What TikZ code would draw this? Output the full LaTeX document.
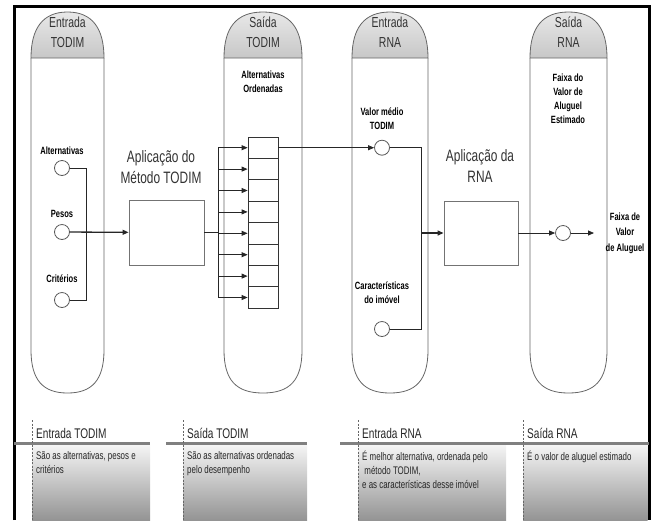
\documentclass[tikz,border=0pt]{standalone}
\usepackage{fontspec}
\setmainfont[FakeStretch=0.72]{Liberation Sans}
\usetikzlibrary{arrows.meta,positioning}

\tikzset{
  raia/.style={draw=black!60, line width=0.8pt},
  cupula/.style={top color=black!9, bottom color=black!22},
  titulo/.style={font=\fontsize{14.5}{20}\selectfont, align=center, black!80},
  rotulo/.style={font=\fontsize{10.5}{14}\bfseries\selectfont, align=center, inner sep=0pt},
  grande/.style={font=\fontsize{16.5}{21}\selectfont, align=center, black!80},
  bola/.style={circle, draw=black!65, line width=0.8pt, minimum size=15pt, inner sep=0pt},
  caixa/.style={draw=black!55, line width=0.9pt, inner sep=0pt},
  fila/.style={draw=black!80, line width=0.8pt, minimum width=30pt, minimum height=21.4pt, inner sep=0pt},
  fio/.style={black!85, line width=0.8pt},
  faixa/.style={top color=black!4, bottom color=black!42, draw=none},
  cab/.style={font=\fontsize{14}{16}\selectfont, anchor=west, inner sep=0pt, black!85},
  corpo/.style={font=\fontsize{11}{14}\selectfont, anchor=north west, align=left, inner sep=0pt, black!85},
}

\begin{document}
\begin{tikzpicture}[x=1pt, y=-1pt, >={Triangle[length=6pt, width=5pt]}]
  \useasboundingbox (0,0) rectangle (652,520);

  % moldura
  \draw[line width=3pt] (14,520) -- (14,6) -- (649,6) -- (649,520);

  % raias
  \foreach \l/\r/\ta/\tb/\nome in {31/104/Entrada/TODIM/r1, 224/302/Saída/TODIM/r2,
                                   352/428/Entrada/RNA/r3, 530/607/Saída/RNA/r4} {
    \pgfmathsetmacro{\m}{(\l+\r)/2}
    \shade[cupula] (\l,58) .. controls (\l,28) and (\l+12,12) .. (\m,12)
                   .. controls (\r-12,12) and (\r,28) .. (\r,58) -- cycle;
    \draw[raia] (\l,58) .. controls (\l,28) and (\l+12,12) .. (\m,12)
                .. controls (\r-12,12) and (\r,28) .. (\r,58) -- cycle;
    \draw[raia] (\l,58) -- (\l,350) .. controls (\l,380) and (\l+12,393) .. (\m,393)
                .. controls (\r-12,393) and (\r,380) .. (\r,350) -- (\r,58);
    \node[titulo] (\nome) at (\m,32) {\ta\\\tb};
  }

  % Entrada TODIM
  \node[bola] (alt) at (62,168) {};
  \node[bola] (pes) at (62,232) {};
  \node[bola] (cri) at (62,300) {};
  \node[rotulo, above=13pt of alt.center] (lalt) {Alternativas};
  \node[rotulo, above=14pt of pes.center] (lpes) {Pesos};
  \node[rotulo, above=17pt of cri.center] (lcri) {Critérios};
  \coordinate (ja) at (86,168);
  \coordinate (jc) at (86,300);
  \draw[fio] (alt) -- (ja) -- (jc) -- (cri);

  % Aplicação do Método TODIM
  \node[caixa, minimum width=75pt, minimum height=65pt] (todim) at (166.5,232.5) {};
  \node[grande] (ltodim) at (161,167) {Aplicação do\\Método TODIM};
  \draw[fio, line width=1.3pt, ->] (pes) -- (todim);

  % Saída TODIM
  \node[rotulo] (lord) at (263,82) {Alternativas\\Ordenadas};
  \foreach \i in {1,...,8} {
    \node[fila] (o\i) at (263,{137+21.4*(\i-0.5)}) {};
  }
  \coordinate (bt) at (218,147.7);
  \coordinate (bb) at (218,297.5);
  \coordinate (bm) at (218,232.5);
  \draw[fio, line width=1.8pt] (todim.east) -- (bm);
  \draw[fio] (bt) -- (bb);
  \foreach \i in {1,...,8} {
    \draw[fio, ->] (bt |- o\i.west) -- (o\i.west);
  }

  % Entrada RNA
  \node[bola] (val) at (382,147.7) {};
  \node[bola] (car) at (382,329) {};
  \node[rotulo, above=18pt of val.center] (lval) {Valor médio\\TODIM};
  \node[rotulo, above=25pt of car.center] (lcar) {Características\\do imóvel};
  \draw[fio, ->] (o1.east) -- (val);
  \coordinate (jv) at (421,147.7);
  \coordinate (jk) at (421,329);
  \draw[fio] (val) -- (jv) -- (jk) -- (car);

  % Aplicação da RNA
  \node[caixa, minimum width=74pt, minimum height=64pt] (rna) at (481,233) {};
  \node[grande] (lrna) at (480,166) {Aplicação da\\RNA};
  \draw[fio, line width=1.3pt, ->] (jv |- rna.west) -- (rna);

  % Saída RNA
  \node[rotulo] (lfx) at (568,99) {Faixa do\\Valor de\\Aluguel\\Estimado};
  \node[bola] (fx) at (563,233) {};
  \coordinate (fim) at (594,233);
  \draw[fio, ->] (rna) -- (fx);
  \draw[fio, ->] (fx) -- (fim);
  \node[rotulo, font=\fontsize{10.5}{15.5}\bfseries\selectfont] (lfim) at (625,233) {Faixa de\\Valor\\de Aluguel};

  % legendas
  \shade[faixa] (32,445) rectangle (150,520);
  \shade[faixa] (183,445) rectangle (307,520);
  \shade[faixa] (358,445) rectangle (506,520);
  \shade[faixa] (523,445) rectangle (647.5,520);
  \draw[black!50, line width=3pt] (14,443) -- (150,443);
  \draw[black!50, line width=3pt] (166,443) -- (307,443);
  \draw[black!50, line width=3pt] (340,443) -- (649,443);
  \foreach \x in {32,183,358,523} {
    \draw[black!60, dashed, dash pattern=on 2pt off 1.5pt, line width=0.6pt] (\x,420) -- (\x,520);
  }
  \node[cab] (c1) at (36,433) {Entrada TODIM};
  \node[cab] (c2) at (187,433) {Saída TODIM};
  \node[cab] (c3) at (362,433) {Entrada RNA};
  \node[cab] (c4) at (527,433) {Saída RNA};
  \node[corpo] (t1) at (36,451) {São as alternativas, pesos e\\critérios};
  \node[corpo] (t2) at (187,451) {São as alternativas ordenadas\\pelo desempenho};
  \node[corpo] (t3) at (362,451) {É melhor alternativa, ordenada pelo\\\ método TODIM,\\e as características desse imóvel};
  \node[corpo] (t4) at (527,451) {É o valor de aluguel estimado};
\end{tikzpicture}
\end{document}
